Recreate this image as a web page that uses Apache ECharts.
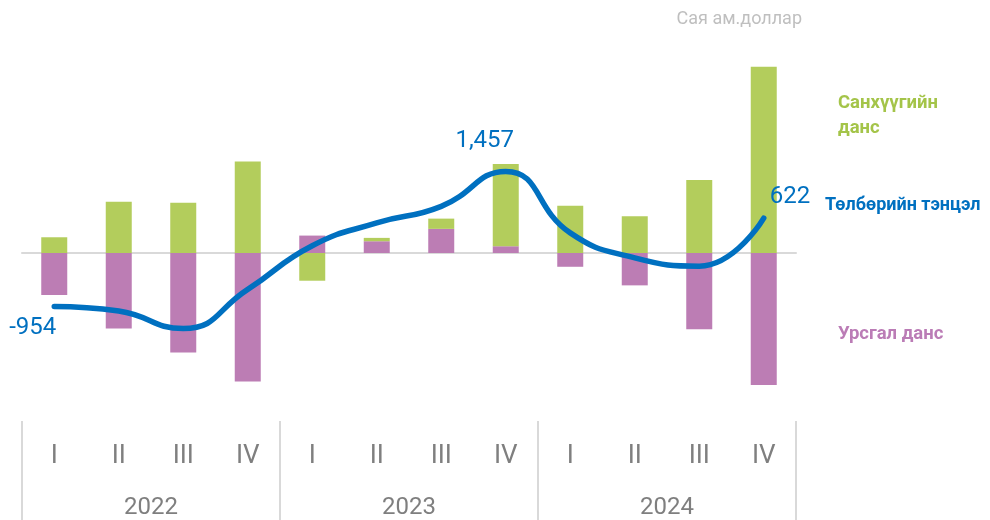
<!DOCTYPE html>
<html>
<head>
<meta charset="utf-8">
<script src="https://cdn.jsdelivr.net/npm/echarts@6/dist/echarts.min.js"></script>
<style>
  html, body { margin: 0; padding: 0; background: #fff; }
  #chart { width: 990px; height: 520px; }
</style>
</head>
<body>
<div id="chart"></div>
<script>
var quarters = ['I', 'II', 'III', 'IV', 'I', 'II', 'III', 'IV', 'I', 'II', 'III', 'IV'];
var years = ['2022', '2023', '2024'];
// сая ам.доллар
var financial = [281, 917, 899, 1634, -495, 60, 183, 1467, 845, 655, 1303, 3325];   // Санхүүгийн данс
var current = [-751, -1350, -1777, -2293, 311, 210, 431, 121, -246, -578, -1362, -2358]; // Урсгал данс
var balance = [-954, -1036, -1350, -650, 130, 537, 833, 1457, 359, -86, -235, 622];  // Төлбөрийн тэнцэл

var font = 'Roboto';
var blue = '#0070c0';
var green = '#b3cd5c';
var purple = '#bc7db4';
var grey = '#7f7f7f';

// which points get a value label, and where
var labelPos = {
    0: { position: 'left', distance: -2, offset: [0, 22] },
    7: { position: 'top', distance: 18, offset: [-21, 0] },
    11: { position: 'right', distance: 6, offset: [0, -21] }
};

var lineData = balance.map(function (v, i) {
    var lp = labelPos[i];
    if (!lp) return v;
    return {
        value: v,
        label: {
            show: true,
            position: lp.position,
            distance: lp.distance,
            offset: lp.offset,
            formatter: function (p) { return p.value.toLocaleString('en-US'); }
        }
    };
});

var chart = echarts.init(document.getElementById('chart'));
var option = {
    animation: false,
    grid: { left: 22, right: 194, top: 57, height: 337 },
    xAxis: [{
        type: 'category',
        data: quarters,
        axisLine: { onZero: true, lineStyle: { color: '#d9d9d9', width: 2 } },
        axisTick: { show: false },
        axisLabel: { show: false }
    }, {
        type: 'category',
        data: quarters,
        position: 'bottom',
        offset: 28,
        axisLine: { show: false, onZero: false },
        axisTick: { show: false },
        axisLabel: { margin: 22, color: grey, fontSize: 26, fontFamily: font }
    }, {
        type: 'category',
        data: years,
        position: 'bottom',
        offset: 28,
        axisLine: { show: false, onZero: false },
        axisTick: { show: true, length: 100, lineStyle: { color: '#d9d9d9', width: 2 } },
        axisLabel: { margin: 75, color: grey, fontSize: 24, fontFamily: font }
    }],
    yAxis: {
        type: 'value',
        min: -2500,
        max: 3500,
        show: false,
        splitLine: { show: false }
    },
    series: [{
        name: 'Урсгал данс',
        type: 'bar',
        stack: 'bop',
        barWidth: 26,
        data: current,
        itemStyle: { color: purple }
    }, {
        name: 'Санхүүгийн данс',
        type: 'bar',
        stack: 'bop',
        barWidth: 26,
        data: financial,
        itemStyle: { color: green }
    }, {
        name: 'Төлбөрийн тэнцэл',
        type: 'line',
        smooth: 0.5,
        showSymbol: true,
        symbol: 'circle',
        symbolSize: 0,
        z: 10,
        data: lineData,
        lineStyle: { color: blue, width: 5.5, cap: 'round' },
        itemStyle: { color: blue },
        label: { color: blue, fontSize: 24, fontFamily: font }
    }],
    graphic: [{
        type: 'text', x: 802, y: 19,
        style: { text: 'Сая ам.доллар', fill: '#bfbfbf', font: '18px ' + font, textAlign: 'right', textVerticalAlign: 'middle' }
    }, {
        type: 'text', x: 838, y: 116,
        style: { text: 'Санхүүгийн\nданс', fill: '#a4c449', font: 'bold 18.5px ' + font, lineHeight: 25, textVerticalAlign: 'middle' }
    }, {
        type: 'text', x: 825, y: 205,
        style: { text: 'Төлбөрийн тэнцэл', fill: blue, font: 'bold 18px ' + font, textVerticalAlign: 'middle' }
    }, {
        type: 'text', x: 838, y: 334,
        style: { text: 'Урсгал данс', fill: '#bb7cb6', font: 'bold 18.5px ' + font, textVerticalAlign: 'middle' }
    }]
};
chart.setOption(option);
</script>
</body>
</html>
